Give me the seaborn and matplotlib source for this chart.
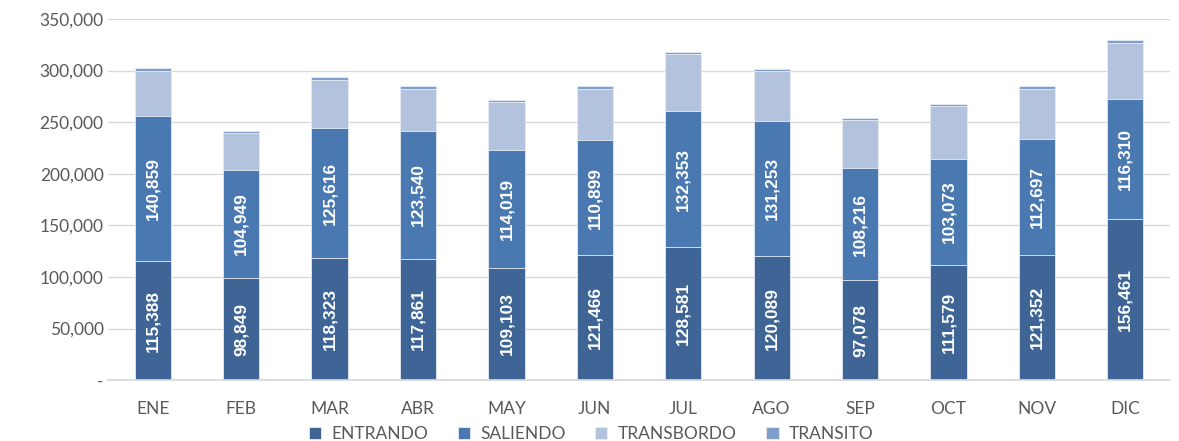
import numpy as np
import pandas as pd
import matplotlib.pyplot as plt
import seaborn as sns
from matplotlib.ticker import FuncFormatter

# Datos por mes
meses = ['ENE', 'FEB', 'MAR', 'ABR', 'MAY', 'JUN', 'JUL', 'AGO', 'SEP', 'OCT', 'NOV', 'DIC']
entrando = [115388, 98849, 118323, 117861, 109103, 121466, 128581, 120089, 97078, 111579, 121352, 156461]
saliendo = [140859, 104949, 125616, 123540, 114019, 110899, 132353, 131253, 108216, 103073, 112697, 116310]
transbordo = [43800, 35500, 47000, 40900, 46000, 49900, 55000, 48100, 46600, 50800, 48000, 54000]
transito = [2600, 2000, 2600, 2600, 2200, 2600, 2200, 2300, 2000, 1900, 2900, 3200]

series = ['ENTRANDO', 'SALIENDO', 'TRANSBORDO', 'TRANSITO']
colores = ['#3f6596', '#4a78b0', '#b4c3dd', '#7f9ecb']

data = pd.DataFrame({'mes': meses, 'ENTRANDO': entrando, 'SALIENDO': saliendo,
                     'TRANSBORDO': transbordo, 'TRANSITO': transito})
cum = data[series].cumsum(axis=1)

sns.set_theme(style='white')
plt.rcParams['font.family'] = ['Lato', 'DejaVu Sans']

fig = plt.figure(figsize=(11.79, 4.41), dpi=100)
ax = fig.add_axes([0.092, 0.138, 0.9, 0.819])

# barras apiladas: dibujar acumulados de mayor a menor
for s, c in reversed(list(zip(series, colores))):
    sns.barplot(x=data['mes'], y=cum[s], color=c, saturation=1, width=0.41, ax=ax,
                edgecolor='#e8edf5', linewidth=0.6, label=s, zorder=2)

# etiquetas de ENTRANDO y SALIENDO
for i in range(len(meses)):
    ax.text(i, entrando[i] / 2, f'{entrando[i]:,}', rotation=90, ha='center', va='center',
            color='white', fontsize=12.5, fontweight='bold', family='Liberation Sans', zorder=3)
    ax.text(i, entrando[i] + saliendo[i] / 2, f'{saliendo[i]:,}', rotation=90, ha='center',
            va='center', color='white', fontsize=12.5, fontweight='bold', family='Liberation Sans',
            zorder=3)

ax.set_ylim(0, 350000)
ax.set_xlim(-0.5, 11.5)
ax.set_yticks(np.arange(0, 350001, 50000))
ax.yaxis.set_major_formatter(FuncFormatter(lambda v, p: '-' if v == 0 else f'{int(v):,}'))
ax.grid(axis='y', color='#d9d9d9', linewidth=1, zorder=0)
ax.set_axisbelow(True)
for sp in ['top', 'right', 'left']:
    ax.spines[sp].set_visible(False)
ax.spines['bottom'].set_color('#d9d9d9')
ax.tick_params(axis='both', colors='#595959', labelsize=12.5, length=0)
ax.tick_params(axis='x', pad=15)
ax.set_xlabel('')
ax.set_ylabel('')

handles, labels = ax.get_legend_handles_labels()
order = [labels.index(s) for s in series]
ax.legend([handles[k] for k in order], series, loc='lower center', bbox_to_anchor=(0.455, -0.215),
          ncol=4, frameon=False, fontsize=12.5, handlelength=0.7, handleheight=0.7,
          columnspacing=1.7, handletextpad=0.6, labelcolor='#595959')

fig.savefig('out.png', dpi=100)
